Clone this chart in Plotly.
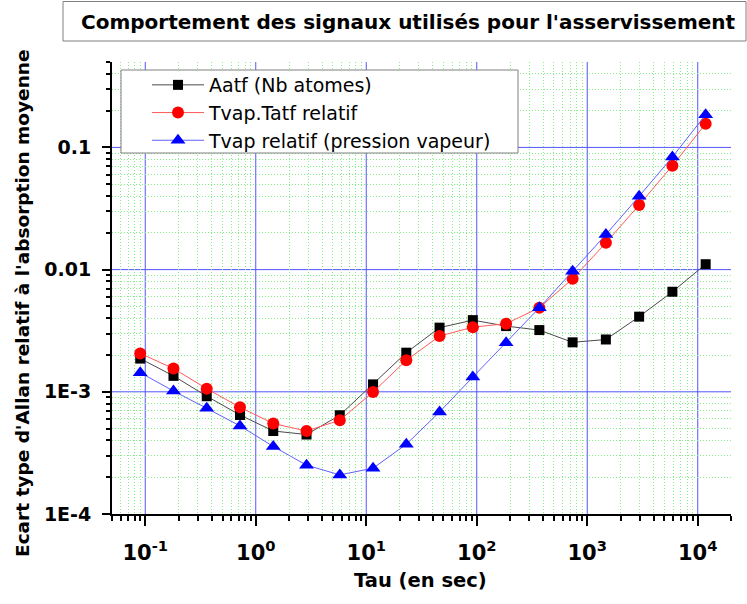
import math
import plotly.graph_objects as go

# Integration time (s): doubling from 0.09 s
tau = [0.09, 0.18, 0.36, 0.72, 1.44, 2.88, 5.76, 11.52, 23.04, 46.08,
       92.16, 184.32, 368.64, 737.28, 1474.56, 2949.12, 5898.24, 11796.48]

# Relative Allan deviation of each signal
aatf = [1.87e-3, 1.35e-3, 9.2e-4, 6.46e-4, 4.78e-4, 4.47e-4, 6.43e-4, 1.15e-3,
        2.09e-3, 3.35e-3, 3.86e-3, 3.45e-3, 3.20e-3, 2.54e-3, 2.68e-3, 4.12e-3,
        6.59e-3, 1.107e-2]
tvap_tatf = [2.06e-3, 1.55e-3, 1.06e-3, 7.47e-4, 5.50e-4, 4.78e-4, 5.85e-4,
             9.96e-4, 1.81e-3, 2.86e-3, 3.38e-3, 3.61e-3, 4.87e-3, 8.41e-3,
             1.656e-2, 3.38e-2, 7.09e-2, 0.156]
tvap = [1.435e-3, 1.015e-3, 7.33e-4, 5.26e-4, 3.57e-4, 2.51e-4, 2.09e-4,
        2.37e-4, 3.72e-4, 6.84e-4, 1.32e-3, 2.52e-3, 4.87e-3, 9.70e-3,
        1.935e-2, 3.98e-2, 8.35e-2, 0.185]

series_names = ["Aatf (Nb atomes)", "Tvap.Tatf relatif", "Tvap relatif (pression vapeur)"]

x_tickvals = [0.1, 1, 10, 100, 1000, 10000]
x_ticktext = ["10<sup>-1</sup>", "10<sup>0</sup>", "10<sup>1</sup>",
              "10<sup>2</sup>", "10<sup>3</sup>", "10<sup>4</sup>"]
y_tickvals = [1e-4, 1e-3, 1e-2, 1e-1]
y_ticktext = ["1E-4", "1E-3", "0.01", "0.1"]

title_text = "Comportement des signaux utilisés pour l'asservissement"
x_title = "Tau (en sec)"
y_title = "Ecart type d'Allan relatif à l'absorption moyenne"

X_RANGE = (0.05, 2e4)
Y_RANGE = (1e-4, 0.5)

FONT = "DejaVu Sans"
MAJOR_GRID = "#5454ff"
MINOR_GRID = "#86ee86"
MINOR_DASH = "1px,2px"


def minor_values(lo, hi):
    """Intermediate 2..9 x 10^n positions inside [lo, hi]."""
    vals = []
    for e in range(math.floor(math.log10(lo)) - 1, math.ceil(math.log10(hi)) + 1):
        for m in range(2, 10):
            v = m * 10 ** e
            if lo * 0.999 <= v <= hi * 1.001:
                vals.append(v)
    return vals


fig = go.Figure()
fig.add_trace(go.Scatter(
    x=tau, y=aatf, name=series_names[0], mode="lines+markers",
    line=dict(color="#4a4a4a", width=1),
    marker=dict(symbol="square", size=10, color="black")))
fig.add_trace(go.Scatter(
    x=tau, y=tvap_tatf, name=series_names[1], mode="lines+markers",
    line=dict(color="#ff5a5a", width=1),
    marker=dict(symbol="circle", size=12, color="#ff0000")))
fig.add_trace(go.Scatter(
    x=tau, y=tvap, name=series_names[2], mode="lines+markers",
    line=dict(color="#6060ff", width=1),
    marker=dict(symbol="triangle-up", size=13, color="#0000ff")))

L, R, T, B = 112, 16, 62, 90
W, H = 747, 604
pw, ph = W - L - R, H - T - B


def px_x(v):
    return (v - L) / pw


def px_y(v):
    return (H - B - v) / ph


# decade grid lines (blue, solid) drawn as axis-referenced lines
grid_shapes = []
for xv in x_tickvals:
    grid_shapes.append(dict(type="line", xref="x", yref="paper", x0=xv, x1=xv,
                            y0=0, y1=1, layer="between",
                            line=dict(color=MAJOR_GRID, width=1)))
for yv in y_tickvals[1:]:
    grid_shapes.append(dict(type="line", xref="paper", yref="y", x0=0, x1=1,
                            y0=yv, y1=yv, layer="between",
                            line=dict(color=MAJOR_GRID, width=1)))

frame_shapes = [
    # title frame
    dict(type="rect", xref="paper", yref="paper",
         x0=px_x(63), x1=px_x(746), y0=px_y(41), y1=px_y(1.5),
         line=dict(color="#808080", width=1), fillcolor="white", layer="above"),
    # legend frame
    dict(type="rect", xref="paper", yref="paper",
         x0=px_x(121), x1=px_x(518), y0=px_y(153), y1=px_y(70),
         line=dict(color="#808080", width=1), fillcolor="white", layer="above"),
]

fig.update_layout(
    width=W, height=H,
    margin=dict(l=L, r=R, t=T, b=B, autoexpand=False),
    paper_bgcolor="white", plot_bgcolor="white",
    font=dict(family=FONT, color="black"),
    showlegend=True,
    legend=dict(
        x=px_x(147), y=px_y(66), xanchor="left", yanchor="top",
        bgcolor="rgba(0,0,0,0)", borderwidth=0,
        font=dict(family=FONT, size=19, color="black"),
        itemwidth=52, tracegroupgap=0,
    ),
    shapes=grid_shapes + frame_shapes,
    annotations=[
        dict(text="<b>" + title_text + "</b>", xref="paper", yref="paper",
             x=px_x(408), y=px_y(22), xanchor="center", yanchor="middle",
             showarrow=False, font=dict(family=FONT, size=20, color="black")),
        dict(text="<b>" + x_title + "</b>", xref="paper", yref="paper",
             x=px_x(420), y=px_y(580), xanchor="center", yanchor="middle",
             showarrow=False, font=dict(family=FONT, size=19.5, color="black")),
        dict(text="<b>" + y_title + "</b>", xref="paper", yref="paper",
             x=px_x(22), y=px_y(303), xanchor="center", yanchor="middle",
             textangle=-90, showarrow=False,
             font=dict(family=FONT, size=18.5, color="black")),
    ],
)

fig.update_xaxes(
    type="log", range=[math.log10(X_RANGE[0]), math.log10(X_RANGE[1])],
    showline=True, linecolor="black", linewidth=2, mirror=False,
    ticks="outside", ticklen=10, tickwidth=2, tickcolor="black",
    tickmode="array", tickvals=x_tickvals, ticktext=x_ticktext,
    tickfont=dict(family=FONT, size=21, color="black", weight="bold"),
    ticklabelstandoff=9,
    showgrid=False,
    minor=dict(tickmode="array", tickvals=minor_values(*X_RANGE),
               ticks="outside", ticklen=5, tickwidth=1.5,
               tickcolor="black", showgrid=True, gridcolor=MINOR_GRID,
               griddash=MINOR_DASH, gridwidth=1),
    zeroline=False,
)
fig.update_yaxes(
    type="log", range=[math.log10(Y_RANGE[0]), math.log10(Y_RANGE[1])],
    showline=True, linecolor="black", linewidth=2, mirror=False,
    ticks="outside", ticklen=8, tickwidth=2, tickcolor="black",
    tickmode="array", tickvals=y_tickvals, ticktext=y_ticktext,
    tickfont=dict(family=FONT, size=19, color="black", weight="bold"),
    ticklabelstandoff=7,
    showgrid=False,
    minor=dict(tickmode="array", tickvals=minor_values(*Y_RANGE),
               ticks="outside", ticklen=4, tickwidth=1.5,
               tickcolor="black", showgrid=True, gridcolor=MINOR_GRID,
               griddash=MINOR_DASH, gridwidth=1),
    zeroline=False,
)

fig.write_html("out.html")
